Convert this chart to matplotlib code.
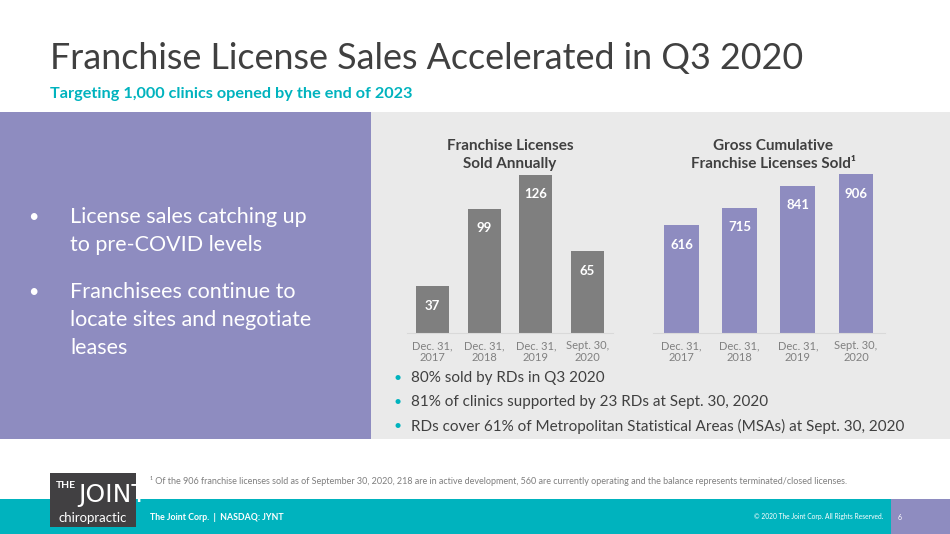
import matplotlib
matplotlib.use("Agg")
import matplotlib.pyplot as plt
from matplotlib.patches import Rectangle

plt.rcParams['font.family'] = ['Lato', 'DejaVu Sans']

# chart data
periods = ["Dec. 31,\n2017", "Dec. 31,\n2018", "Dec. 31,\n2019", "Sept. 30,\n2020"]
annualSold = [37, 99, 126, 65]
cumulativeSold = [616, 715, 841, 906]

leftBullets = [["License sales catching up", "to pre-COVID levels"],
               ["Franchisees continue to", "locate sites and negotiate", "leases"]]
rdBullets = ["80% sold by RDs in Q3 2020",
             "81% of clinics supported by 23 RDs at Sept. 30, 2020",
             "RDs cover 61% of Metropolitan Statistical Areas (MSAs) at Sept. 30, 2020"]

W, H = 950, 534
PURPLE = "#8E8CC0"
GREY_BAR = "#7F7F7F"
TEAL = "#00B3BE"
DARK = "#404040"


def axRect(left, top, right, bottom):
    """pixel box -> figure fraction box"""
    return [left / W, 1 - bottom / H, (right - left) / W, (bottom - top) / H]


def drawBars(fig, box, values, color, ymax, width):
    ax = fig.add_axes(box)
    ax.set_facecolor("none")
    x = range(len(values))
    bars = ax.bar(x, values, width=width, color=color)
    ax.set_xlim(-0.5, len(values) - 0.5)
    ax.set_ylim(0, ymax)
    for s in ["top", "right", "left"]:
        ax.spines[s].set_visible(False)
    ax.spines["bottom"].set_color("#D9D9D9")
    ax.set_yticks([])
    ax.set_xticks(list(x))
    ax.set_xticklabels(periods, fontsize=8, color="#808080", linespacing=1.1)
    ax.tick_params(axis="x", length=0, pad=5)
    for b, v in zip(bars, values):
        ax.annotate(str(v), (b.get_x() + b.get_width() / 2, v), xytext=(0, -14),
                    textcoords="offset points", ha="center", va="center",
                    color="white", fontsize=9.5, fontweight="bold")
    return ax


fig = plt.figure(figsize=(9.5, 5.34), dpi=100)
fig.patch.set_facecolor("white")

bg = fig.add_axes([0, 0, 1, 1])
bg.set_xlim(0, W)
bg.set_ylim(H, 0)
bg.axis("off")

# panels
bg.add_patch(Rectangle((0, 112), W, 327, color="#EAEAEA", lw=0))
bg.add_patch(Rectangle((0, 112), 371, 327, color=PURPLE, lw=0))

# title block
bg.text(50, 58, "Franchise License Sales Accelerated in Q3 2020", fontsize=25.8,
        color=DARK, va="center", ha="left")
bg.text(50, 94, "Targeting 1,000 clinics opened by the end of 2023", fontsize=11.7,
        color=TEAL, fontweight="bold", va="center", ha="left")

# left bullets, one text per line
for yy, lines in zip([217, 292], leftBullets):
    bg.text(33, yy, "\u2022", fontsize=13, color="white", va="center", ha="center")
    for i, line in enumerate(lines):
        bg.text(70, yy + i * 28, line, fontsize=15.5, color="white", va="center", ha="left")

# chart titles
bg.text(510, 155, "Franchise Licenses\nSold Annually", fontsize=11, fontweight="bold",
        color=DARK, ha="center", va="center", linespacing=1.3)
bg.text(773, 155, "Gross Cumulative\nFranchise Licenses Sold\u00b9", fontsize=11,
        fontweight="bold", color=DARK, ha="center", va="center", linespacing=1.3)

# bars
drawBars(fig, axRect(407, 157, 613, 333), annualSold, GREY_BAR, 140, 0.65)
drawBars(fig, axRect(652.5, 158, 885, 333), cumulativeSold, PURPLE, 1000, 0.6)

# RD bullets
for yy, txt in zip([378, 402, 426], rdBullets):
    bg.text(398, yy, "\u2022", fontsize=10, color=TEAL, va="center", ha="center")
    bg.text(411, yy, txt, fontsize=11, color=DARK, va="center", ha="left")

# footnote
bg.text(150, 481, "\u00b9 Of the 906 franchise licenses sold as of September 30, 2020, 218 are in active "
        "development, 560 are currently operating and the balance represents terminated/closed licenses.",
        fontsize=6.5, color="#7F7F7F", va="center", ha="left")

# footer band
bg.add_patch(Rectangle((0, 499), 891, 35, color=TEAL, lw=0))
bg.add_patch(Rectangle((891, 499), 59, 35, color=PURPLE, lw=0))
bg.add_patch(Rectangle((50, 473), 86, 54, color="#414042", lw=0))
bg.text(56, 486, "THE", fontsize=7.5, color="white", fontweight="bold", va="center")
bg.text(78, 495, "JOINT", fontsize=18, color="white", va="center", ha="left",
        family=["DejaVu Sans Condensed", "DejaVu Sans"])
bg.text(93, 518, "chiropractic", fontsize=9.5, color="white", va="center", ha="center")

bg.text(150, 517, "The Joint Corp.  |  NASDAQ: JYNT", fontsize=6.3, color="white",
        fontweight="bold", va="center")
bg.text(883, 517, "\u00a9 2020 The Joint Corp. All Rights Reserved.", fontsize=4.8,
        color="white", va="center", ha="right")
bg.text(900, 517, "6", fontsize=5, color="white", va="center", ha="center")

fig.savefig("out.png", dpi=100, facecolor=fig.get_facecolor())
